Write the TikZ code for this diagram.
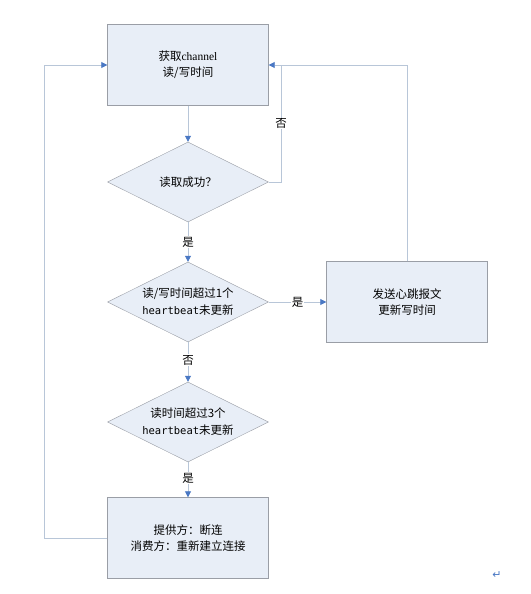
\documentclass[tikz,border=0pt]{standalone}
\usepackage{fontspec}
\setmainfont{Liberation Serif}
\newfontfamily\cjk{Noto Sans CJK SC}
\newfontfamily\hbfont{DejaVu Sans Mono}
\newfontfamily\symfont{DejaVu Sans}
\usetikzlibrary{shapes.geometric,arrows.meta}
\definecolor{boxfill}{HTML}{E8EEF7}
\definecolor{boxline}{HTML}{9A9EA6}
\definecolor{wire}{HTML}{B8C6D8}
\definecolor{tipblue}{HTML}{4A78C4}
\newcommand{\hb}{{\hbfont\fontsize{10.5}{15}\selectfont heartbeat}}
\tikzset{
  stepbox/.style = {draw=boxline, fill=boxfill, minimum width=161pt, minimum height=81pt,
    align=center, font=\cjk\fontsize{11.5}{16}\selectfont},
  test/.style = {diamond, draw=boxline, fill=boxfill, aspect=2, inner sep=0pt,
    minimum width=161pt, minimum height=80pt},
  testtext/.style = {align=center, font=\cjk\fontsize{11.5}{17}\selectfont},
  flow/.style = {draw=wire, line width=0.8pt,
    -{Triangle[color=tipblue, length=6pt, width=6pt]}},
  wireline/.style = {draw=wire, line width=0.8pt},
  tag/.style = {fill=white, inner sep=1pt, font=\cjk\fontsize{11.5}{13}\selectfont}
}
\begin{document}
\begin{tikzpicture}[x=1pt, y=-1pt]
  \useasboundingbox (0,0) rectangle (530,594);

  \node[stepbox] (fetch) at (188,65) {获取{\rmfamily channel}\\读/写时间};
  \node[test] (readok) at (188,182) {};
  \node[testtext] at (readok) {读取成功？};
  \node[test] (idle1) at (188,302) {};
  \node[testtext] at (idle1) {读/写时间超过1个\\\hb 未更新};
  \node[stepbox] (beat) at (407,302) {发送心跳报文\\更新写时间};
  \node[test] (idle3) at (188,422) {};
  \node[testtext] at (idle3) {读时间超过3个\\\hb 未更新};
  \node[stepbox] (close) at (188,538) {提供方：断连\\消费方：重新建立连接};

  \coordinate (leftdown) at (44,538);
  \coordinate (leftup) at (44,65);
  \coordinate (retry) at (281,182);
  \coordinate (retrytop) at (281,65);
  \coordinate (beattop) at (407,65);

  \draw[flow] (fetch) -- (readok);
  \draw[flow] (readok) -- node[tag] {是} (idle1);
  \draw[flow] (idle1) -- node[tag, pos=0.45] {否} (idle3);
  \draw[flow] (idle3) -- node[tag, pos=0.45] {是} (close);
  \draw[flow] (idle1) -- node[tag, pos=0.5] {是} (beat);

  \draw[wireline] (readok.east) -- (retry) -- node[tag] {否} (retrytop);
  \draw[flow] (beat.north) -- (beattop) -- (fetch.east);
  \draw[flow] (close.west) -- (leftdown) -- (leftup) -- (fetch.west);

  \node[text=tipblue, font=\symfont\fontsize{11}{13}\selectfont] (mark) at (497,575) {↵};
\end{tikzpicture}
\end{document}
